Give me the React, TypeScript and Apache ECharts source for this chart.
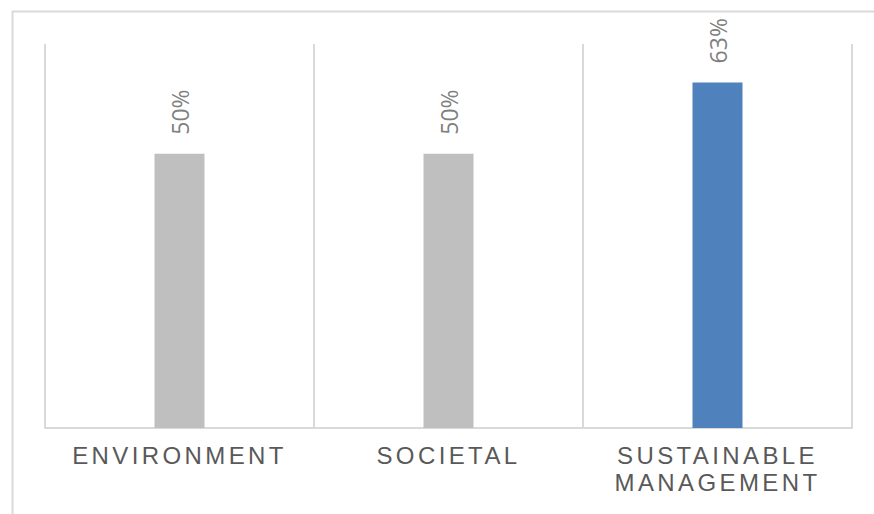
import React, { useEffect, useRef } from "react";
import * as echarts from "echarts";

const categories = ["ENVIRONMENT", "SOCIETAL", "SUSTAINABLE\nMANAGEMENT"];
const values = [0.5, 0.5, 0.63];
const barColors = ["#BFBFBF", "#BFBFBF", "#4F81BD"];

export default function App() {
  const ref = useRef<HTMLDivElement>(null);
  useEffect(() => {
    const chart = echarts.init(ref.current!, null, { renderer: "svg" });
    chart.setOption({
      animation: false,
      backgroundColor: "#ffffff",
      graphic: [
        {
          type: "rect",
          left: 10,
          top: 9,
          shape: { width: 900, height: 600 },
          style: { fill: "none", stroke: "#D9D9D9", lineWidth: 2 },
          silent: true,
        },
      ],
      grid: { left: 45, right: 22, top: 44, bottom: 86 },
      xAxis: {
        type: "category",
        data: categories,
        axisLine: { show: true, lineStyle: { color: "#D9D9D9", width: 2 } },
        axisTick: { show: false },
        splitLine: { show: true, lineStyle: { color: "#D9D9D9", width: 2 } },
        axisLabel: {
          color: "#595959",
          fontFamily: "Liberation Sans, Arial, sans-serif",
          fontSize: 24,
          lineHeight: 27,
          margin: 14,
          interval: 0,
        },
      },
      yAxis: {
        type: "value",
        min: 0,
        max: 0.7,
        show: false,
        splitLine: { show: false },
      },
      series: [
        {
          type: "bar",
          barWidth: 50,
          data: values.map((v, i) => ({ value: v, itemStyle: { color: barColors[i] } })),
          label: {
            show: true,
            position: "top",
            rotate: 90,
            align: "left",
            verticalAlign: "middle",
            distance: 19,
            color: "#7F7F7F",
            fontFamily: "Open Sans, sans-serif",
            fontSize: 23,
            formatter: (p: any) => Math.round(p.value * 100) + "%",
          },
        },
      ],
    });
    return () => chart.dispose();
  }, []);
  return (
    <>
      <style>{`body{margin:0} text[fill="#595959"]{letter-spacing:3.4px}`}</style>
      <div ref={ref} style={{ width: 874, height: 514 }} />
    </>
  );
}
